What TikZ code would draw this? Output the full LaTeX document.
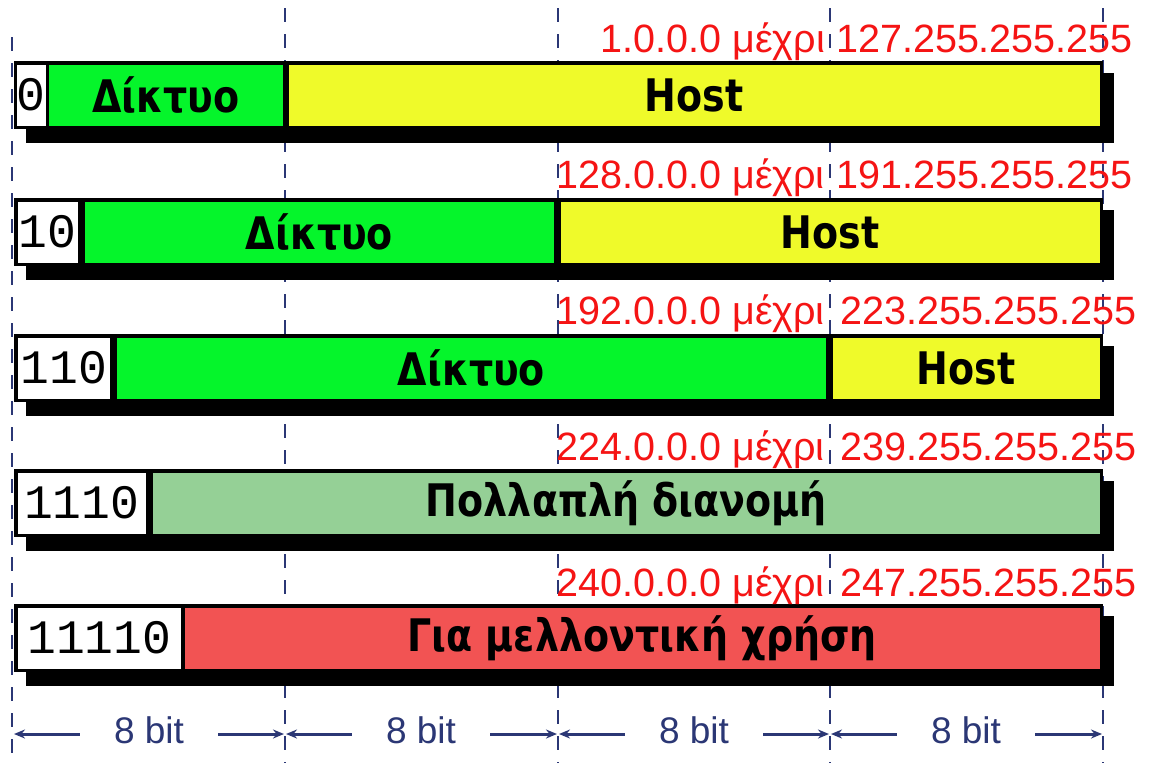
\documentclass[tikz,border=0pt]{standalone}
\usepackage{fontspec}
\setmainfont{DejaVu Sans}
\newfontfamily\lblfont{DejaVu Sans}
\newfontfamily\ipfont{Liberation Sans}
\newfontfamily\binfont{Liberation Mono}
\usetikzlibrary{arrows.meta}
\definecolor{netgreen}{HTML}{05F52B}
\definecolor{hostyellow}{HTML}{EFFA2A}
\definecolor{mcgreen}{HTML}{95D096}
\definecolor{futred}{HTML}{F25353}
\definecolor{navy}{HTML}{2B3775}
\definecolor{iptext}{HTML}{F51414}
\newcommand{\lbl}[1]{\scalebox{1}[1.18]{\lblfont\bfseries\fontsize{38}{40}\selectfont #1}}
\newcommand{\binf}{\binfont\fontsize{48}{50}\selectfont}
\newcommand{\ipf}{\ipfont\fontsize{39.5}{42}\selectfont}
\newcommand{\bitf}{\ipfont\fontsize{37}{40}\selectfont}
\newcommand{\ipbar}[1]{%
  \fill[black] (26,#1+12) rectangle (1114,#1+82);
  \fill[black] (14,#1) rectangle (1103,#1+68);
}
\newcommand{\cellnode}[6]{% name, x1, x2, top, fill, content
  \node[cellbox, fill=#5, minimum width={(#3-#2)*1pt}] (#1) at ({(#2+#3)/2}, #4+34) {#6};
}
\tikzset{
  cellbox/.style={inner sep=0pt, minimum height=61pt, draw=none, anchor=center},
  dashline/.style={draw=navy, line width=2.6pt, dash pattern=on 14pt off 12pt},
  bitarrow/.style={draw=navy, line width=3pt, -{Stealth[length=11pt,width=9pt]}},
  iplabel/.style={inner sep=0pt, text=iptext, font=\ipf},
  bitlabel/.style={inner sep=0pt, text=navy, font=\bitf, anchor=base}
}
\begin{document}
\begin{tikzpicture}[x=1pt,y=-1pt]
\useasboundingbox (0,0) rectangle (1150,763);
\fill[white] (0,0) rectangle (1150,763);
% dashed guide lines
\coordinate (t0) at (12,37);  \coordinate (u0) at (12,763);
\coordinate (t1) at (285,8);  \coordinate (u1) at (285,763);
\coordinate (t2) at (558,8);  \coordinate (u2) at (558,763);
\coordinate (t3) at (830,8);  \coordinate (u3) at (830,763);
\coordinate (t4) at (1103,8); \coordinate (u4) at (1103,763);
\foreach \i in {0,...,4} \draw[dashline] (t\i) -- (u\i);

% row 1
\ipbar{61}
\cellnode{p1}{17.5}{45}{61}{white}{\binf 0}
\cellnode{n1}{49}{283}{61}{netgreen}{\lbl{Δίκτυο}}
\cellnode{h1}{288.5}{1099.5}{61}{hostyellow}{\lbl{Host}}
\node[iplabel, anchor=base east] (r1a) at (825,52) {1.0.0.0 μέχρι};
\node[iplabel, anchor=base west] (r1b) at (836,52) {127.255.255.255};

% row 2
\ipbar{198}
\cellnode{p2}{17.5}{78}{198}{white}{\binf 10}
\cellnode{n2}{85}{554}{198}{netgreen}{\lbl{Δίκτυο}}
\cellnode{h2}{561}{1099.5}{198}{hostyellow}{\lbl{Host}}
\node[iplabel, anchor=base east] (r2a) at (825,188) {128.0.0.0 μέχρι};
\node[iplabel, anchor=base west] (r2b) at (836,188) {191.255.255.255};

% row 3
\ipbar{334}
\cellnode{p3}{17.5}{110}{334}{white}{\binf 110}
\cellnode{n3}{117}{826}{334}{netgreen}{\lbl{Δίκτυο}}
\cellnode{h3}{833}{1099.5}{334}{hostyellow}{\lbl{Host}}
\node[iplabel, anchor=base east] (r3a) at (825,324) {192.0.0.0 μέχρι};
\node[iplabel, anchor=base west] (r3b) at (840,324) {223.255.255.255};

% row 4
\ipbar{469}
\cellnode{p4}{17.5}{146}{469}{white}{\binf 1110}
\cellnode{m4}{153}{1099.5}{469}{mcgreen}{\lbl{Πολλαπλή διανομή}}
\node[iplabel, anchor=base east] (r4a) at (825,460) {224.0.0.0 μέχρι};
\node[iplabel, anchor=base west] (r4b) at (840,460) {239.255.255.255};

% row 5
\ipbar{604}
\cellnode{p5}{17.5}{181}{604}{white}{\binf 11110}
\cellnode{f5}{185}{1099.5}{604}{futred}{\lbl{Για μελλοντική χρήση}}
\node[iplabel, anchor=base east] (r5a) at (825,596) {240.0.0.0 μέχρι};
\node[iplabel, anchor=base west] (r5b) at (840,596) {247.255.255.255};

% bit widths
\node[bitlabel] (b1) at (149,743) {8 bit};
\node[bitlabel] (b2) at (421,743) {8 bit};
\node[bitlabel] (b3) at (694,743) {8 bit};
\node[bitlabel] (b4) at (966,743) {8 bit};
\coordinate (e0) at (13,734);  \coordinate (e1) at (285,734);
\coordinate (e2) at (558,734); \coordinate (e3) at (830,734);
\coordinate (e4) at (1103,734);
\foreach \i/\a/\b in {1/0/1,2/1/2,3/2/3,4/3/4} {
  \coordinate (l\i) at ([xshift=-34pt]b\i.west |- e0);
  \coordinate (r\i) at ([xshift=34pt]b\i.east |- e0);
  \draw[bitarrow, shorten >=1pt] (l\i) -- (e\a);
  \draw[bitarrow, shorten >=1pt] (r\i) -- (e\b);
}
\end{tikzpicture}
\end{document}
